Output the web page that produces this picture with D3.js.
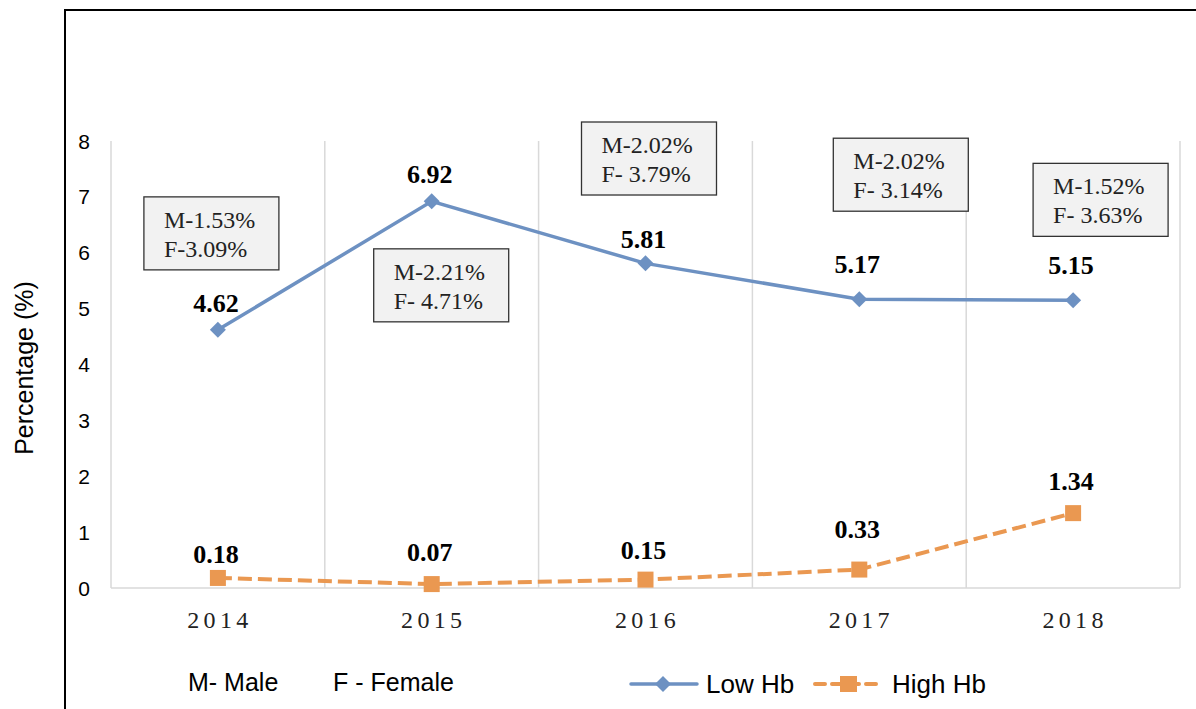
<!DOCTYPE html>
<html>
<head>
<meta charset="utf-8">
<script src="https://cdn.jsdelivr.net/npm/d3@7"></script>
<style>
  body { margin: 0; background: #fff; }
  svg { display: block; }
</style>
</head>
<body>
<script>
const width = 1196;
const height = 709;

// dati
const years = ['2014', '2015', '2016', '2017', '2018'];
const lowHb = [4.62, 6.92, 5.81, 5.17, 5.15];
const highHb = [0.18, 0.07, 0.15, 0.33, 1.34];
const yTicks = [0, 1, 2, 3, 4, 5, 6, 7, 8];
const noteM = ['M-1.53%', 'M-2.21%', 'M-2.02%', 'M-2.02%', 'M-1.52%'];
const noteF = ['F-3.09%', 'F- 4.71%', 'F- 3.79%', 'F- 3.14%', 'F- 3.63%'];

// layout: posizione dei riquadri (bordo superiore in unità dati, scarto x in px)
const noteTop = [7.0, 6.07, 8.34, 8.05, 7.6];
const noteDx = [-74, -58, -64, -26, -40];
// scarto verticale delle etichette (px sopra il punto)
const lowLabelDy = [18, 18, 15, 26, 26];
const highLabelDy = [15, 23, 21, 32, 23];

const blue = '#6d91c2';
const orange = '#ea9851';

const plot = { left: 111, right: 1180, top: 141, bottom: 588 };

const svg = d3.select('body').append('svg')
  .attr('width', width)
  .attr('height', height);

// cornice esterna
svg.append('path')
  .attr('d', `M65,${height + 5} L65,10 L${width + 5},10`)
  .attr('fill', 'none')
  .attr('stroke', '#000')
  .attr('stroke-width', 2);

const x = d3.scaleBand()
  .domain(years)
  .range([plot.left, plot.right]);

const y = d3.scaleLinear()
  .domain([0, 8])
  .range([plot.bottom, plot.top]);

const cx = d => x(d) + x.bandwidth() / 2;

// griglia verticale
const edges = years.map(d => x(d)).concat([plot.right]);
svg.selectAll('line.grid')
  .data(edges)
  .enter()
  .append('line')
  .attr('x1', d => d).attr('x2', d => d)
  .attr('y1', plot.top).attr('y2', plot.bottom)
  .attr('stroke', '#d9d9d9')
  .attr('stroke-width', 1.5);

// asse x
svg.append('line')
  .attr('x1', plot.left).attr('x2', plot.right)
  .attr('y1', plot.bottom).attr('y2', plot.bottom)
  .attr('stroke', '#d9d9d9')
  .attr('stroke-width', 1.5);

svg.selectAll('text.xtick')
  .data(years)
  .enter()
  .append('text')
  .attr('x', d => cx(d) + 2)
  .attr('y', 628)
  .attr('text-anchor', 'middle')
  .attr('font-family', 'Liberation Serif, Times New Roman, serif')
  .attr('font-size', 24)
  .attr('letter-spacing', 4.3)
  .attr('fill', '#222')
  .text(d => d);

// asse y
svg.selectAll('text.ytick')
  .data(yTicks)
  .enter()
  .append('text')
  .attr('x', 90)
  .attr('y', d => y(d) + 7.5)
  .attr('text-anchor', 'end')
  .attr('font-family', 'Liberation Sans, Arial, sans-serif')
  .attr('font-size', 21)
  .attr('fill', '#000')
  .text(d => d);

svg.append('text')
  .attr('transform', `translate(33,368) rotate(-90)`)
  .attr('text-anchor', 'middle')
  .attr('font-family', 'Liberation Sans, Arial, sans-serif')
  .attr('font-size', 25)
  .attr('fill', '#000')
  .text('Percentage (%)');

// riquadri annotazioni
const notes = svg.selectAll('g.note')
  .data(years)
  .enter()
  .append('g')
  .attr('transform', (d, i) => `translate(${cx(d) + noteDx[i]},${y(noteTop[i])})`);

notes.append('rect')
  .attr('width', 135)
  .attr('height', 73)
  .attr('fill', '#f2f2f2')
  .attr('stroke', '#333')
  .attr('stroke-width', 1.3);

notes.append('text')
  .attr('x', 20).attr('y', 31)
  .attr('font-family', 'Liberation Serif, Times New Roman, serif')
  .attr('font-size', 24)
  .attr('fill', '#222')
  .text((d, i) => noteM[i]);

notes.append('text')
  .attr('x', 20).attr('y', 60)
  .attr('font-family', 'Liberation Serif, Times New Roman, serif')
  .attr('font-size', 24)
  .attr('fill', '#222')
  .text((d, i) => noteF[i]);

// linee
const line = d3.line()
  .x((d, i) => cx(years[i]))
  .y(d => y(d));

svg.append('path')
  .attr('d', line(lowHb))
  .attr('fill', 'none')
  .attr('stroke', blue)
  .attr('stroke-width', 3.5);

svg.append('path')
  .attr('d', line(highHb))
  .attr('fill', 'none')
  .attr('stroke', orange)
  .attr('stroke-width', 4)
  .attr('stroke-dasharray', '14,6');

// marcatori
svg.selectAll('path.diamond')
  .data(lowHb)
  .enter()
  .append('path')
  .attr('d', 'M0,-8 L8,0 L0,8 L-8,0 Z')
  .attr('transform', (d, i) => `translate(${cx(years[i])},${y(d)})`)
  .attr('fill', blue);

svg.selectAll('rect.square')
  .data(highHb)
  .enter()
  .append('rect')
  .attr('x', (d, i) => cx(years[i]) - 8)
  .attr('y', d => y(d) - 8)
  .attr('width', 16)
  .attr('height', 16)
  .attr('fill', orange);

// etichette valori
const labelStyle = sel => sel
  .attr('text-anchor', 'middle')
  .attr('font-family', 'Liberation Serif, Times New Roman, serif')
  .attr('font-weight', 'bold')
  .attr('font-size', 26)
  .attr('fill', '#000');

svg.selectAll('text.low')
  .data(lowHb)
  .enter()
  .append('text')
  .attr('x', (d, i) => cx(years[i]) - 2)
  .attr('y', (d, i) => y(d) - lowLabelDy[i])
  .call(labelStyle)
  .text(d => d.toFixed(2));

svg.selectAll('text.high')
  .data(highHb)
  .enter()
  .append('text')
  .attr('x', (d, i) => cx(years[i]) - 2)
  .attr('y', (d, i) => y(d) - highLabelDy[i])
  .call(labelStyle)
  .text(d => d.toFixed(2));

// legenda
const legFont = 'Liberation Sans, Arial, sans-serif';
svg.append('text')
  .attr('x', 188).attr('y', 691)
  .attr('font-family', legFont).attr('font-size', 25)
  .text('M- Male');
svg.append('text')
  .attr('x', 333).attr('y', 691)
  .attr('font-family', legFont).attr('font-size', 25)
  .text('F - Female');

const legY = 684;
svg.append('line')
  .attr('x1', 631).attr('x2', 697).attr('y1', legY).attr('y2', legY)
  .attr('stroke', blue).attr('stroke-width', 3.5).attr('stroke-linecap', 'round');
svg.append('path')
  .attr('d', 'M0,-8 L8,0 L0,8 L-8,0 Z')
  .attr('transform', `translate(663,${legY})`)
  .attr('fill', blue);
svg.append('text')
  .attr('x', 706).attr('y', legY + 9)
  .attr('font-family', legFont).attr('font-size', 26)
  .text('Low Hb');

svg.append('line')
  .attr('x1', 815).attr('x2', 883).attr('y1', legY).attr('y2', legY)
  .attr('stroke', orange).attr('stroke-width', 4)
  .attr('stroke-dasharray', '10,7').attr('stroke-linecap', 'round');
svg.append('rect')
  .attr('x', 840).attr('y', legY - 8).attr('width', 17).attr('height', 16)
  .attr('fill', orange);
svg.append('text')
  .attr('x', 892).attr('y', legY + 9)
  .attr('font-family', legFont).attr('font-size', 26)
  .text('High Hb');
</script>
</body>
</html>
